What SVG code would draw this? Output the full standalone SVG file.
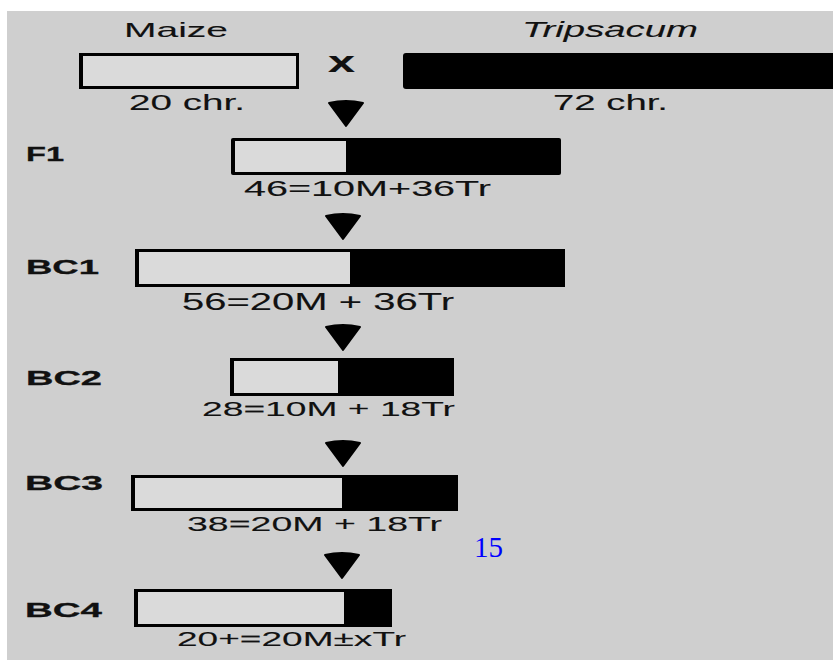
<svg xmlns="http://www.w3.org/2000/svg" width="833" height="660" viewBox="0 0 833 660">
<style>
.t{font-family:"Liberation Sans",Arial,Helvetica,sans-serif;fill:#111;stroke:#111;stroke-width:0.1;}
.lbl{font-family:"Liberation Sans",Arial,Helvetica,sans-serif;font-weight:bold;font-size:20px;fill:#111;stroke:#111;stroke-width:0.3;}
.blk{fill:#000;}
.wht{fill:#dadada;}
.arr{fill:#000;stroke:#000;stroke-width:2;stroke-linejoin:round;}
</style>
<rect x="0" y="0" width="833" height="660" fill="#ffffff"/>
<rect x="7" y="11" width="826" height="649" fill="#cfcfcf"/>

<g id="maize">
<text class="t" x="124" y="37" font-size="21" textLength="104" lengthAdjust="spacingAndGlyphs">Maize</text>
<rect class="blk" x="79" y="53" width="220" height="36"/>
<rect class="wht" x="83" y="56" width="213" height="30"/>
<text class="t" x="129" y="110" font-size="22" textLength="116" lengthAdjust="spacingAndGlyphs">20 chr.</text>
</g>

<g id="cross">
<text class="t" x="328" y="72" font-size="30" font-weight="bold" textLength="27" lengthAdjust="spacingAndGlyphs">x</text>
</g>

<g id="tripsacum">
<text class="t" x="522" y="37" font-size="22" font-style="italic" textLength="176" lengthAdjust="spacingAndGlyphs">Tripsacum</text>
<rect class="blk" x="403" y="53" width="440" height="36" rx="3"/>
<text class="t" x="553" y="110" font-size="22" textLength="115" lengthAdjust="spacingAndGlyphs">72 chr.</text>
</g>

<g id="F1">
<text class="lbl" x="26" y="161" textLength="38" lengthAdjust="spacingAndGlyphs">F1</text>
<rect class="blk" x="231" y="138" width="330" height="37" rx="2"/>
<rect class="wht" x="235" y="141" width="111" height="31"/>
<text class="t" x="244" y="196" font-size="22" textLength="247" lengthAdjust="spacingAndGlyphs">46=10M+36Tr</text>
</g>

<g id="BC1">
<text class="lbl" x="26" y="274" textLength="73" lengthAdjust="spacingAndGlyphs">BC1</text>
<rect class="blk" x="135" y="249" width="430" height="38"/>
<rect class="wht" x="139" y="252" width="211" height="32"/>
<text class="t" x="182" y="310" font-size="24" textLength="272" lengthAdjust="spacingAndGlyphs">56=20M + 36Tr</text>
</g>

<g id="BC2">
<text class="lbl" x="26" y="385" textLength="76" lengthAdjust="spacingAndGlyphs">BC2</text>
<rect class="blk" x="230" y="358" width="224" height="38"/>
<rect class="wht" x="234" y="361" width="104" height="32"/>
<text class="t" x="202" y="416" font-size="21" textLength="253" lengthAdjust="spacingAndGlyphs">28=10M + 18Tr</text>
</g>

<g id="BC3">
<text class="lbl" x="25" y="490" textLength="78" lengthAdjust="spacingAndGlyphs">BC3</text>
<rect class="blk" x="131" y="475" width="327" height="36"/>
<rect class="wht" x="135" y="478" width="207" height="30"/>
<text class="t" x="187" y="531" font-size="21" textLength="255" lengthAdjust="spacingAndGlyphs">38=20M + 18Tr</text>
</g>

<g id="BC4">
<text class="lbl" x="25" y="617" textLength="77" lengthAdjust="spacingAndGlyphs">BC4</text>
<rect class="blk" x="134" y="589" width="258" height="38"/>
<rect class="wht" x="138" y="592" width="206" height="32"/>
<text class="t" x="177" y="646" font-size="21" textLength="229" lengthAdjust="spacingAndGlyphs">20+=20M±xTr</text>
</g>

<g id="page-number">
<text x="474" y="557" font-family="'Liberation Serif','Times New Roman',serif" font-size="29" fill="#0000ff">15</text>
</g>

<g id="connectors">
<path class="arr" d="M329,103 Q346,99 363,103 L346,126 Z"/>
<path class="arr" d="M326,216 Q343,212 360,216 L343,239 Z"/>
<path class="arr" d="M326,327 Q343,323 360,327 L343,350 Z"/>
<path class="arr" d="M326,443 Q343,439 360,443 L343,466 Z"/>
<path class="arr" d="M325,555 Q342,551 359,555 L342,578 Z"/>
</g>
</svg>
